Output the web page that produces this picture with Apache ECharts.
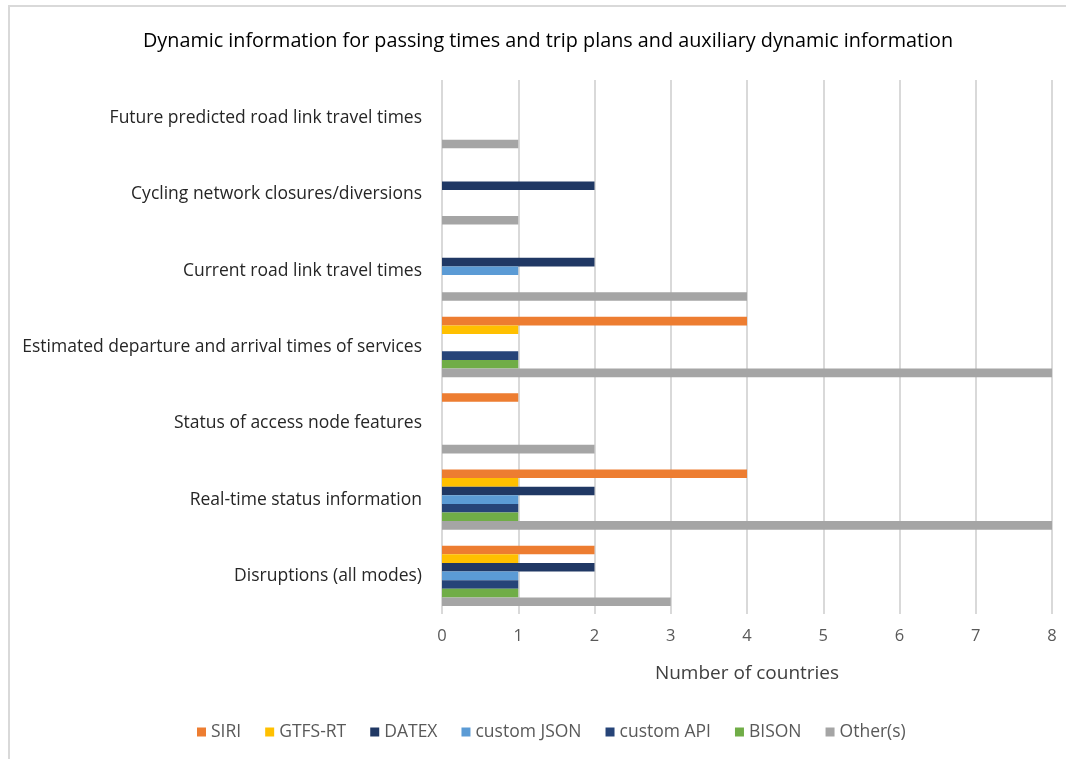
<!DOCTYPE html>
<html>
<head>
<meta charset="utf-8">
<script src="https://cdn.jsdelivr.net/npm/echarts@6/dist/echarts.min.js"></script>
<style>
  html, body { margin: 0; padding: 0; background: #fff; }
  #chart { width: 1066px; height: 759px; }
</style>
</head>
<body>
<div id="chart"></div>
<script>
// Categories, listed bottom to top on the vertical axis
const categories = [
  'Disruptions (all modes)',
  'Real-time status information',
  'Status of access node features',
  'Estimated departure and arrival times of services',
  'Current road link travel times',
  'Cycling network closures/diversions',
  'Future predicted road link travel times'
];

// Number of countries per format, same order as categories
const siri       = [2, 4, 1, 4, 0, 0, 0];
const gtfsRt     = [1, 1, 0, 1, 0, 0, 0];
const datex      = [2, 2, 0, 0, 2, 2, 0];
const customJson = [1, 1, 0, 0, 1, 0, 0];
const customApi  = [1, 1, 0, 1, 0, 0, 0];
const bison      = [1, 1, 0, 1, 0, 0, 0];
const others     = [3, 8, 2, 8, 4, 1, 1];

const xTicks = [0, 1, 2, 3, 4, 5, 6, 7, 8];

const FONT = '"Open Sans", "Liberation Sans", sans-serif';

const seriesDefs = [
  { name: 'SIRI',        data: siri,       color: '#ED7D31' },
  { name: 'GTFS-RT',     data: gtfsRt,     color: '#FFC000' },
  { name: 'DATEX',       data: datex,      color: '#203864' },
  { name: 'custom JSON', data: customJson, color: '#5B9BD5' },
  { name: 'custom API',  data: customApi,  color: '#264478' },
  { name: 'BISON',       data: bison,      color: '#70AD47' },
  { name: 'Other(s)',    data: others,     color: '#A5A5A5' }
];

const chart = echarts.init(document.getElementById('chart'), null, { renderer: 'canvas' });

chart.setOption({
  animation: false,
  backgroundColor: '#ffffff',
  title: {
    text: 'Dynamic information for passing times and trip plans and auxiliary dynamic information',
    left: 543,
    textAlign: 'center',
    top: 26,
    textStyle: { fontFamily: FONT, fontSize: 19.8, fontWeight: 'normal', color: '#000000' }
  },
  legend: {
    bottom: 13,
    left: 192,
    itemWidth: 9,
    itemHeight: 9,
    itemGap: 24,
    icon: 'rect',
    textStyle: { fontFamily: FONT, fontSize: 17.5, color: '#595959' },
    data: seriesDefs.map(s => s.name)
  },
  grid: { left: 442, right: 14, top: 80, bottom: 145, containLabel: false },
  xAxis: {
    type: 'value',
    min: xTicks[0],
    max: xTicks[xTicks.length - 1],
    interval: 1,
    name: 'Number of countries',
    nameLocation: 'middle',
    nameGap: 50,
    nameTextStyle: { fontFamily: FONT, fontSize: 19, color: '#404040' },
    axisLine: { show: false },
    axisTick: { show: false },
    axisLabel: { fontFamily: FONT, fontSize: 16.5, color: '#595959', margin: 14 },
    splitLine: { show: true, lineStyle: { color: '#d9d9d9', width: 2 } }
  },
  yAxis: {
    type: 'category',
    data: categories,
    axisLine: { show: false },
    axisTick: { show: false },
    axisLabel: { fontFamily: FONT, fontSize: 17.5, color: '#262626', margin: 20 },
    splitLine: { show: false }
  },
  series: seriesDefs.map(s => ({
    name: s.name,
    type: 'bar',
    data: s.data,
    barGap: '0%',
    barCategoryGap: '21%',
    itemStyle: { color: s.color },
    emphasis: { disabled: true }
  })),
  graphic: [
    { type: 'line', shape: { x1: 8, y1: 6, x2: 1066, y2: 6 }, style: { stroke: '#d9d9d9', lineWidth: 2 } },
    { type: 'line', shape: { x1: 9, y1: 5, x2: 9, y2: 759 }, style: { stroke: '#d9d9d9', lineWidth: 2 } }
  ]
});
</script>
</body>
</html>
